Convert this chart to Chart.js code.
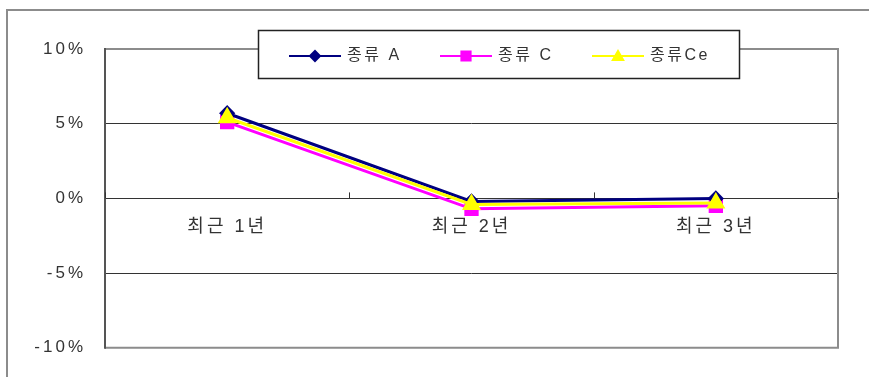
<!DOCTYPE html>
<html><head><meta charset="utf-8">
<script src="https://cdn.jsdelivr.net/npm/chart.js@4/dist/chart.umd.min.js"></script>
<style>html,body{margin:0;padding:0;background:#fff;overflow:hidden}</style>
</head><body>
<canvas id="c" width="869" height="377" style="display:block;width:869px;height:377px"></canvas>
<script>
const categories = ['최근 1년', '최근 2년', '최근 3년'];
const seriesA = [5.7, -0.2, 0.0];
const seriesC = [5.1, -0.7, -0.5];
const seriesCe = [5.4, -0.4, -0.3];
const seriesNames = ['종류 A', '종류 C', '종류Ce'];
const yMin = -10, yMax = 10, yStep = 5;

const FONT = "'Liberation Sans', 'Noto Sans CJK KR', sans-serif";

const decor = {
  id: 'decor',
  beforeDraw(chart) {
    const ctx = chart.ctx;
    ctx.save();
    ctx.fillStyle = '#fff';
    ctx.fillRect(0, 0, chart.width, chart.height);
    ctx.strokeStyle = '#8c8c8c';
    ctx.lineWidth = 2;
    ctx.beginPath();
    ctx.moveTo(6, 10); ctx.lineTo(chart.width, 10);
    ctx.moveTo(7, 10); ctx.lineTo(7, chart.height);
    ctx.stroke();
    ctx.restore();
    ctx.letterSpacing = '3px';
  },
  beforeDatasetsDraw(chart) {
    const ctx = chart.ctx, a = chart.chartArea;
    const xs = chart.scales.x, ys = chart.scales.y;
    ctx.save();
    ctx.strokeStyle = '#8c8c8c';
    ctx.lineWidth = 2;
    ctx.beginPath();
    ctx.moveTo(a.left, a.top); ctx.lineTo(a.right, a.top);
    ctx.lineTo(a.right, a.bottom); ctx.lineTo(a.left, a.bottom);
    ctx.stroke();
    ctx.strokeStyle = '#555';
    ctx.beginPath();
    ctx.moveTo(a.left, a.top - 1); ctx.lineTo(a.left, a.bottom + 1);
    ctx.stroke();
    const y0 = ys.getPixelForValue(0);
    ctx.strokeStyle = '#333';
    ctx.lineWidth = 1;
    ctx.beginPath();
    for (let i = 0; i <= categories.length; i++) {
      const x = Math.round(xs.getPixelForValue(i - 0.5)) + 0.5;
      ctx.moveTo(x, y0); ctx.lineTo(x, y0 - 6);
    }
    ctx.stroke();
    ctx.restore();
  },
  afterDraw(chart) {
    const ctx = chart.ctx;
    ctx.save();
    ctx.fillStyle = '#fff';
    ctx.fillRect(258, 30, 482, 49);
    ctx.strokeStyle = '#222';
    ctx.lineWidth = 1.5;
    ctx.strokeRect(258.5, 30.5, 481, 48);
    const itemX = [289, 440, 592];
    const y = 56;
    chart.data.datasets.forEach((ds, i) => {
      const lx = itemX[i];
      ctx.strokeStyle = ds.borderColor;
      ctx.lineWidth = 2;
      ctx.beginPath();
      ctx.moveTo(lx, y); ctx.lineTo(lx + 52, y);
      ctx.stroke();
      ctx.fillStyle = ds.backgroundColor;
      ctx.strokeStyle = ds.borderColor;
      Chart.helpers.drawPoint(ctx, {
        pointStyle: ds.pointStyle, rotation: 0, borderWidth: 1,
        radius: ds.pointStyle === 'triangle' ? 6 : (ds.pointStyle === 'rect' ? 6.5 : 5)
      }, lx + 26, ds.pointStyle === 'triangle' ? y + 1 : y);
      ctx.fillStyle = '#333';
      ctx.font = '16px ' + FONT;
      ctx.letterSpacing = '2.5px';
      ctx.textBaseline = 'middle';
      ctx.textAlign = 'left';
      ctx.fillText(ds.label, lx + 58, y);
    });
    ctx.restore();
  }
};

new Chart(document.getElementById('c'), {
  type: 'line',
  data: {
    labels: categories,
    datasets: [
      { label: seriesNames[0], data: seriesA, borderColor: '#000080', backgroundColor: '#000080',
        pointStyle: 'rectRot', pointRadius: 6, borderWidth: 3, order: 1 },
      { label: seriesNames[1], data: seriesC, borderColor: '#ff00ff', backgroundColor: '#ff00ff',
        pointStyle: 'rect', pointRadius: 8, borderWidth: 3, order: 2 },
      { label: seriesNames[2], data: seriesCe, borderColor: '#ffff00', backgroundColor: '#ffff00',
        pointStyle: 'triangle', pointRadius: 8, borderWidth: 3, order: 0 }
    ]
  },
  options: {
    responsive: false,
    animation: false,
    devicePixelRatio: 1,
    layout: { padding: { left: 0, top: 49, right: 31, bottom: 29 } },
    elements: { line: { tension: 0 }, point: { borderWidth: 1, hoverRadius: 6 } },
    plugins: { legend: { display: false }, tooltip: { enabled: false } },
    scales: {
      x: {
        type: 'category',
        offset: true,
        position: { y: 0 },
        grid: { display: false, drawTicks: false },
        border: { display: true, color: '#333', width: 1 },
        ticks: { color: '#333', padding: 18, font: { family: FONT, size: 18 }, maxRotation: 0 }
      },
      y: {
        min: yMin, max: yMax,
        grid: { color: '#333', lineWidth: 1, drawTicks: false },
        border: { display: false },
        afterFit(scale) { scale.width = 105; },
        ticks: {
          stepSize: yStep, padding: 19, color: '#333',
          font: { family: FONT, size: 17 },
          callback: v => v + '%'
        }
      }
    }
  },
  plugins: [decor]
});
</script>
</body></html>
